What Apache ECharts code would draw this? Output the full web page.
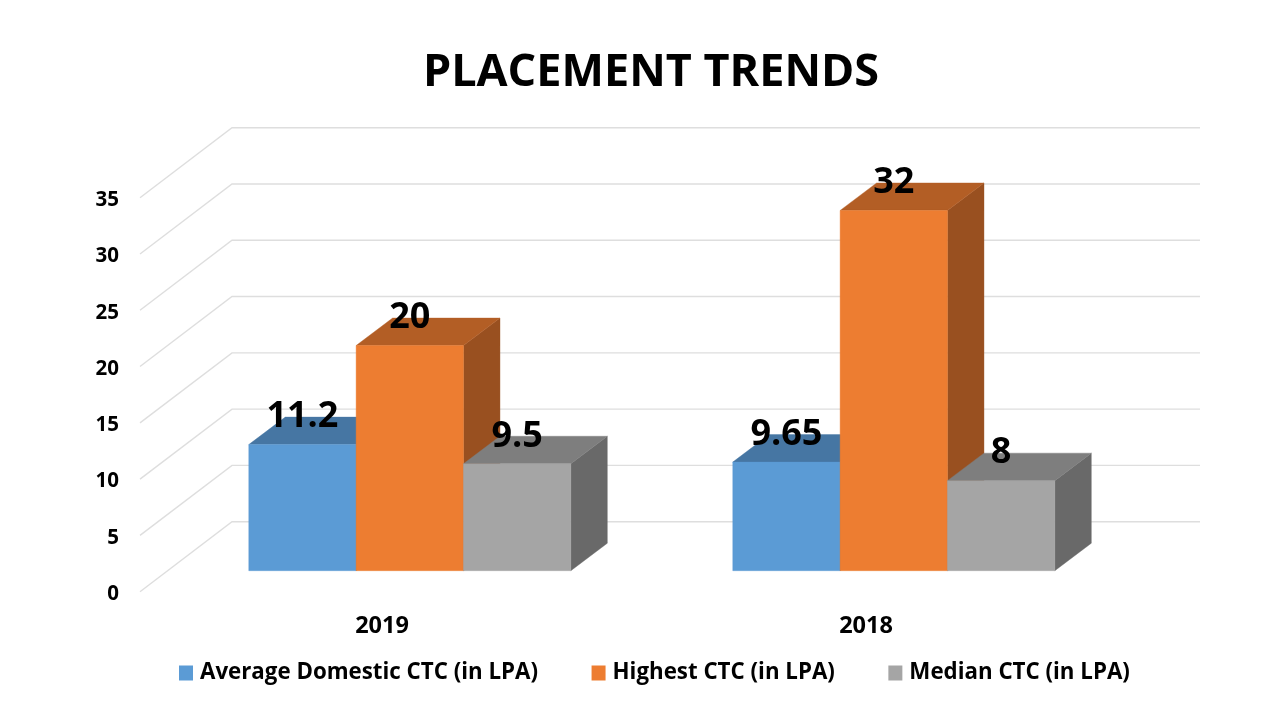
<!DOCTYPE html>
<html><head><meta charset="utf-8">
<style>html,body{margin:0;padding:0;background:#fff}#c{width:1280px;height:720px}</style>
<script src="https://cdn.jsdelivr.net/npm/echarts@6/dist/echarts.min.js"></script>
</head><body><div id="c"></div>
<script>
const titleText = 'PLACEMENT TRENDS';
const categories = ['2019', '2018'];
const avgDomestic = [11.2, 9.65];
const highest = [20, 32];
const median = [9.5, 8];
const wallTicks = [0, 5, 10, 15, 20, 25, 30, 35];
const seriesNames = ['Average Domestic CTC (in LPA)', 'Highest CTC (in LPA)', 'Median CTC (in LPA)'];
const FONT = '"Open Sans", sans-serif';
const palette = [
  { front: '#5B9BD5', top: '#4676A3', side: '#3F6C95' },
  { front: '#ED7D31', top: '#B35E25', side: '#995020' },
  { front: '#A5A5A5', top: '#7E7E7E', side: '#696969' }
];
const barShift = { x: 27.8, y: -21 };
const barDepth = { x: 36.5, y: -27.5 };
const wallDepth = { x: 92, y: -70 };
const chart = echarts.init(document.getElementById('c'), null, { renderer: 'canvas' });

function wallItem(params, api) {
  const y = api.coord([0, api.value(1)])[1];
  const cs = params.coordSys;
  return {
    type: 'polyline', silent: true,
    shape: { points: [[cs.x, y], [cs.x + wallDepth.x, y + wallDepth.y], [cs.x + cs.width + wallDepth.x, y + wallDepth.y]] },
    style: { stroke: '#DEDEDE', lineWidth: 1.4, fill: null }
  };
}
function barItem(seriesIdx) {
  return function (params, api) {
    const cat = api.value(0), val = api.value(1);
    const band = api.size([1, 0])[0];
    const w = band * 0.2218;
    const base = api.coord([cat, 0]);
    const tip = api.coord([cat, val]);
    const x0 = base[0] + barShift.x + (seriesIdx - 1.5) * w;
    const x1 = x0 + w;
    const yB = base[1] + barShift.y;
    const yT = tip[1] + barShift.y;
    const d = barDepth, c = palette[seriesIdx];
    const poly = (pts, fill) => ({ type: 'polygon', shape: { points: pts }, style: { fill: fill, stroke: fill, lineWidth: 0.4 } });
    return {
      type: 'group',
      children: [
        poly([[x1, yB], [x1 + d.x, yB + d.y], [x1 + d.x, yT + d.y], [x1, yT]], c.side),
        poly([[x0, yT], [x1, yT], [x1 + d.x, yT + d.y], [x0 + d.x, yT + d.y]], c.top),
        poly([[x0, yB], [x1, yB], [x1, yT], [x0, yT]], c.front),
        { type: 'text', z2: 100, silent: true,
          style: { text: String(val), x: (x0 + x1) / 2, y: yT - 27.5, align: 'center', verticalAlign: 'middle',
                   font: 'bold 36px ' + FONT, fill: '#000' } }
      ]
    };
  };
}
const valuesBySeries = [avgDomestic, highest, median];
chart.setOption({
  animation: false,
  backgroundColor: '#fff',
  title: { text: titleText, left: 646, top: 46, textAlign: 'center',
    textStyle: { fontFamily: FONT, fontWeight: 'bold', fontSize: 45, color: '#000' } },
  grid: { left: 140, top: 197.7, width: 968, height: 394, containLabel: false },
  xAxis: { type: 'category', data: categories, axisLine: { show: false }, axisTick: { show: false },
    axisLabel: { fontFamily: FONT, fontWeight: 'bold', fontSize: 23.5, color: '#000', margin: 23 } },
  yAxis: { type: 'value', min: 0, max: 35, interval: 5, axisLine: { show: false }, axisTick: { show: false },
    splitLine: { show: false },
    axisLabel: { fontFamily: FONT, fontWeight: 'bold', fontSize: 20.5, color: '#000', margin: 21, verticalAlign: 'top', lineHeight: 5 } },
  legend: { data: seriesNames, left: 174, top: 657, icon: 'rect', itemWidth: 14, itemHeight: 15, itemGap: 53.5,
    textStyle: { fontFamily: FONT, fontWeight: 'bold', fontSize: 22.3, color: '#000', padding: [0, 0, 0, 2] } },
  series: [
    { type: 'custom', name: 'wall', z: 1, silent: true, renderItem: wallItem,
      data: wallTicks.map(v => [0, v]), encode: { x: 0, y: 1 } },
    ...seriesNames.map((name, i) => ({
      type: 'custom', name, z: 2 + i, renderItem: barItem(i), itemStyle: { color: palette[i].front },
      encode: { x: 0, y: 1 }, data: categories.map((_, k) => [k, valuesBySeries[i][k]])
    }))
  ]
});
</script></body></html>
